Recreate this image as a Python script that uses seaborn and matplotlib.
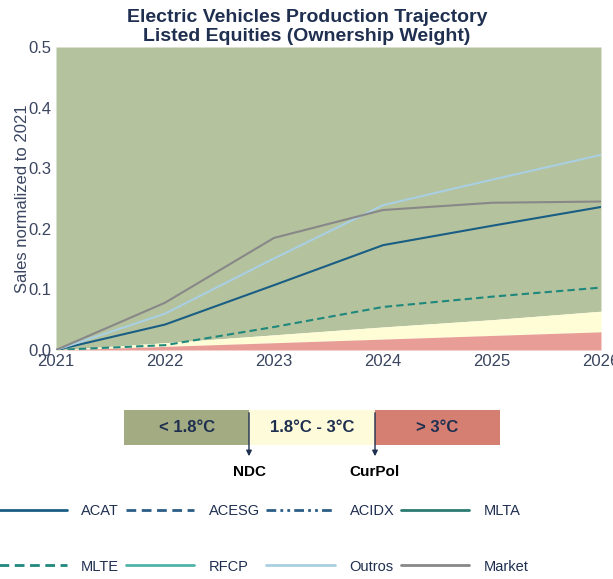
import numpy as np
import pandas as pd
import matplotlib
matplotlib.use("Agg")
import matplotlib.pyplot as plt
from matplotlib.lines import Line2D
import seaborn as sns

sns.set_theme(style="white")
plt.rcParams['font.family'] = ['Liberation Sans', 'DejaVu Sans']

years = [2021, 2022, 2023, 2024, 2025, 2026]
acat = [0.0, 0.042, 0.107, 0.173, 0.205, 0.236]
mlte = [0.0, 0.008, 0.038, 0.071, 0.088, 0.103]
outros = [0.0, 0.060, 0.151, 0.239, 0.281, 0.322]
market = [0.0, 0.078, 0.185, 0.231, 0.243, 0.245]

red_top = [0.0, 0.006, 0.012, 0.018, 0.024, 0.030]
yellow_top = [0.0, 0.012, 0.025, 0.038, 0.050, 0.064]
green_top = [0.5, 0.5, 0.5, 0.5, 0.5, 0.5]

series_names = ["ACAT", "ACESG", "ACIDX", "MLTA", "MLTE", "RFCP", "Outros", "Market"]
series_colors = ["#1a5e84", "#2c5d86", "#2c5d86", "#2b7b72", "#1f887c", "#4fb3a8", "#a9cfe2", "#888888"]
series_styles = ["-", (0, (3.5, 2)), (0, (3.5, 1.5, 1, 1.5, 1, 1.5)), "-", (0, (3.5, 2)), "-", "-", "-"]

temp_labels = ["< 1.8°C", "1.8°C - 3°C", "> 3°C"]
temp_colors = ["#a3ab82", "#fdfbd9", "#d57f73"]
marker_labels = ["NDC", "CurPol"]

navy = "#1f2f50"

data = pd.DataFrame({
    "year": years * 4,
    "value": acat + mlte + outros + market,
    "series": ["ACAT"] * 6 + ["MLTE"] * 6 + ["Outros"] * 6 + ["Market"] * 6,
})

fig = plt.figure(figsize=(6.13, 5.79), dpi=100)
W, H = 613, 579
ax = fig.add_axes([56 / W, 1 - 350 / H, (601 - 56) / W, (350 - 47) / H])

ax.fill_between(years, yellow_top, green_top, color="#b5c29e", lw=0)
ax.fill_between(years, red_top, yellow_top, color="#fefdd6", lw=0)
ax.fill_between(years, 0, red_top, color="#e89e96", lw=0)

pal = dict(zip(series_names, series_colors))
sty = dict(zip(series_names, series_styles))
for name in ["MLTE", "ACAT", "Outros", "Market"]:
    sub = data[data["series"] == name]
    sns.lineplot(data=sub, x="year", y="value", ax=ax, color=pal[name],
                 linestyle=sty[name], linewidth=1.5, legend=False)

ax.set_xlim(2021, 2026)
ax.set_ylim(0, 0.5)
ax.set_xticks(years)
ax.set_xticklabels([str(y) for y in years])
ax.set_yticks([0, 0.1, 0.2, 0.3, 0.4, 0.5])
ax.set_yticklabels(["0.0", "0.1", "0.2", "0.3", "0.4", "0.5"])
ax.tick_params(axis="both", labelsize=12, colors="#3a4560", length=0, pad=3)
ax.set_xlabel("")
ax.set_ylabel("Sales normalized to 2021", fontsize=12, color="#3a4560", labelpad=-1)
for s in ax.spines.values():
    s.set_visible(False)
fig.text(307 / W, 1 - 27 / H,
         "Electric Vehicles Production Trajectory\nListed Equities (Ownership Weight)",
         ha="center", va="center", fontsize=14, fontweight="bold", color=navy,
         linespacing=1.1)

# temperature bar
bax = fig.add_axes([124 / W, 1 - 445 / H, (500 - 124) / W, 35 / H])
for i, (lab, col) in enumerate(zip(temp_labels, temp_colors)):
    bax.barh(0, 1, left=i, height=1, color=col, lw=0)
    bax.text(i + 0.5, 0, lab, ha="center", va="center", fontsize=12,
             fontweight="bold", color=navy)
bax.set_xlim(0, 3)
bax.set_ylim(-0.5, 0.5)
bax.axis("off")

for xpix, lab in zip([249, 375], marker_labels):
    fig.add_artist(matplotlib.patches.FancyArrowPatch(
        (xpix / W, 1 - 410 / H), (xpix / W, 1 - 459 / H),
        transform=fig.transFigure, arrowstyle="-|>", mutation_scale=8,
        color=navy, lw=1))
    fig.text(xpix / W, 1 - 472 / H, lab, ha="center", va="center",
             fontsize=11, fontweight="bold", color="black")

handles = [Line2D([], [], color=c, linestyle=s, linewidth=2)
           for c, s in zip(series_colors, series_styles)]
order = [0, 4, 1, 5, 2, 6, 3, 7]
fig.legend([handles[i] for i in order], [series_names[i] for i in order],
           ncol=4, loc="upper left",
           bbox_to_anchor=(-2 / W, 1 - 504 / H), frameon=False,
           fontsize=10.5, handlelength=4.7, handletextpad=1.0,
           columnspacing=0.45, labelspacing=2.85, borderpad=0, borderaxespad=0,
           labelcolor=navy)

fig.savefig("out.png", dpi=100)
